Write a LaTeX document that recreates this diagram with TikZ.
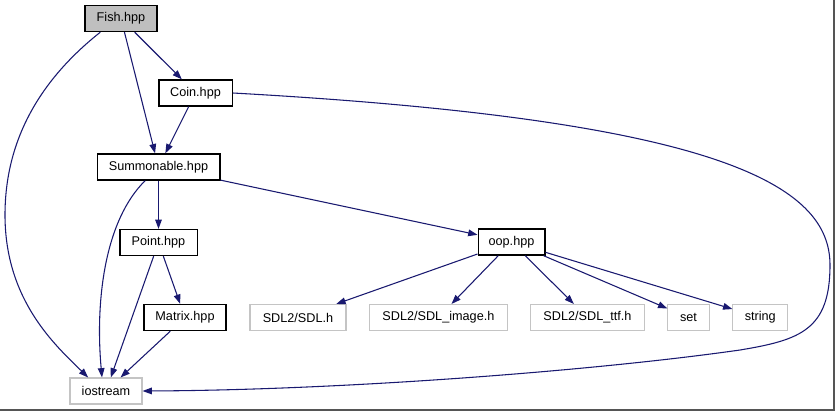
\documentclass[tikz,border=0pt]{standalone}
\usepackage{fontspec}
\setmainfont{Liberation Sans}
\usepackage{tikz}
\usetikzlibrary{arrows.meta, positioning}
\definecolor{edgeBlue}{HTML}{191970}
\definecolor{rootGray}{HTML}{BFBFBF}
\definecolor{extGray}{HTML}{C4C4C4}
\definecolor{frameGray}{HTML}{555555}

\begin{document}
\begin{tikzpicture}[
        x=0.75pt, y=-0.75pt,
        node distance=17pt,
        baseNode/.style={rectangle, align=center, minimum height=19.5pt, inner sep=0pt, font=\fontsize{9.5}{11}\selectfont},
        docNode/.style={baseNode, draw=black, line width=1pt},
        rootNode/.style={docNode, fill=rootGray},
        extNode/.style={baseNode, draw=extGray, line width=0.8pt},
        arrow/.style={-{Triangle[length=7pt, width=5pt]}, draw=edgeBlue, line width=0.8pt}
    ]
        \useasboundingbox[fill=white] (0,0) rectangle (835,411);
        \draw[frameGray, line width=1.5pt] (834,0) -- (834,410) -- (0,410);

        \node[rootNode, minimum width=54pt] (fish) at (121,18.5) {Fish.hpp};
        \node[docNode, minimum width=55pt] (coin) at (195.5,93) {Coin.hpp};
        \node[docNode, minimum width=92pt] (summonable) at (158.5,167) {Summonable.hpp};
        \node[docNode, minimum width=58pt] (point) at (158.5,242.5) {Point.hpp};
        \node[docNode, minimum width=61.5pt] (matrix) at (185,317.5) {Matrix.hpp};
        \node[extNode, minimum width=54pt] (iostream) at (106,391) {iostream};
        \node[docNode, minimum width=50pt] (oop) at (511.5,242) {oop.hpp};
        \node[extNode, minimum width=72pt] (sdl) at (298,317.5) {SDL2/SDL.h};
        \node[extNode, minimum width=103pt, right=of sdl] (sdlImage) {SDL2/SDL\_image.h};
        \node[extNode, minimum width=85pt, right=of sdlImage] (sdlTtf) {SDL2/SDL\_ttf.h};
        \node[extNode, minimum width=31pt, right=of sdlTtf] (stdSet) {set};
        \node[extNode, minimum width=41pt, right=of stdSet] (stdString) {string};

        \draw[arrow] ([xshift=12pt]fish.south west) .. controls (40,80) and (5,140) .. (5,215)
            .. controls (5,300) and (55,345) .. ([xshift=14pt]iostream.north west);
        \draw[arrow] (fish) -- (summonable);
        \draw[arrow] (fish) -- (coin);
        \draw[arrow] (coin) -- (summonable);
        \draw[arrow] (coin.east) .. controls (720,120) and (830,185) .. (830,265)
            .. controls (830,330) and (800,340) .. (740,350)
            .. controls (600,370) and (350,390) .. (iostream.east);
        \draw[arrow] ([xshift=-10pt]summonable.south) .. controls (105,220) and (95,300) .. ([xshift=-3pt]iostream.north);
        \draw[arrow] (summonable) -- (point);
        \draw[arrow] (summonable) -- (oop);
        \draw[arrow] (point) -- (iostream);
        \draw[arrow] (point) -- (matrix);
        \draw[arrow] (matrix) -- (iostream);
        \draw[arrow] (oop) -- (sdl);
        \draw[arrow] (oop) -- (sdlImage);
        \draw[arrow] (oop) -- (sdlTtf);
        \draw[arrow] (oop) -- (stdSet);
        \draw[arrow] (oop) -- (stdString);
    \end{tikzpicture}
\end{document}
